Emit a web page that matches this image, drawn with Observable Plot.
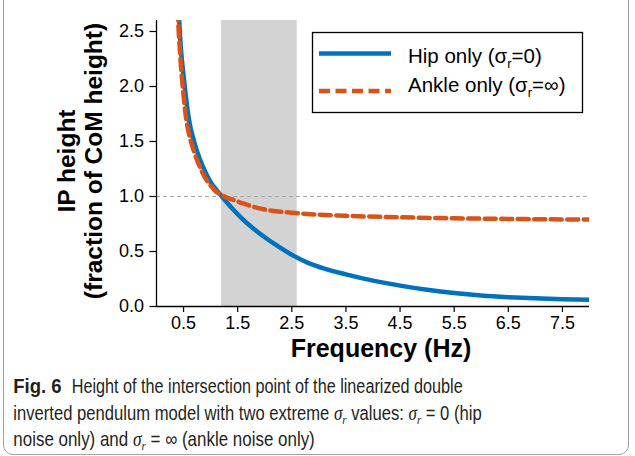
<!DOCTYPE html>
<html><head><meta charset="utf-8">
<script src="https://cdn.jsdelivr.net/npm/d3@7"></script>
<script src="https://cdn.jsdelivr.net/npm/@observablehq/plot@0.6"></script>
<style>
html,body{margin:0;padding:0;background:#fff;}
#wrap{position:relative;width:635px;height:456px;overflow:hidden;font-family:"Liberation Sans",Arial,sans-serif;}
#frame{position:absolute;left:3px;top:-12px;width:626px;height:467px;border:1px solid #a0a0a0;border-radius:10px;box-sizing:border-box;}
#chart{position:absolute;left:0;top:0;}
#overlay{position:absolute;left:0;top:0;pointer-events:none;}
</style>
</head><body>
<div id="wrap"><div id="frame"></div><div id="chart"></div></div>
<script>
// ---- data ----
const hipFreq   = [0.41,0.45,0.5,0.55,0.6,0.7,0.8,0.9,1.0,1.1,1.2,1.4,1.6,1.8,2.0,2.2,2.5,2.8,3.1,3.5,4.0,4.5,5.0,5.5,6.0,6.5,7.0,7.5,8.0];
const hipHeight = [2.68,2.35,2.10,1.88,1.70,1.49,1.34,1.225,1.13,1.065,1.005,0.89,0.79,0.705,0.63,0.562,0.47,0.397,0.345,0.292,0.235,0.19,0.152,0.122,0.10,0.085,0.074,0.066,0.061];
const ankleFreq   = [0.39,0.42,0.45,0.5,0.55,0.6,0.7,0.8,0.9,1.0,1.1,1.2,1.3,1.4,1.6,1.8,2.0,2.3,2.6,3.0,3.5,4.5,5.5,6.5,8.0];
const ankleHeight = [2.70,2.42,2.20,1.92,1.70,1.57,1.40,1.27,1.17,1.10,1.045,1.012,0.99,0.973,0.937,0.905,0.882,0.862,0.848,0.835,0.824,0.811,0.802,0.796,0.79];
const bandStart = 1.2, bandEnd = 2.6;   // shaded frequency band
const refLevel = 1.0;                   // dashed reference line
const xTicks = [0.5,1.5,2.5,3.5,4.5,5.5,6.5,7.5];
const yTicks = [0,0.5,1.0,1.5,2.0,2.5];
const seriesNames = ["Hip only", "Ankle only"];

const blue = "#0072bd", orange = "#d95319";
const hip = hipFreq.map((f,i)=>({f, h: hipHeight[i]}));
const ankle = ankleFreq.map((f,i)=>({f, h: ankleHeight[i]}));

const chart = Plot.plot({
  width: 635, height: 370,
  marginLeft: 156, marginRight: 46, marginTop: 20, marginBottom: 64,
  x: {domain: [0, 8]},
  y: {domain: [0, 2.6]},
  style: {fontFamily: "'Liberation Sans', Arial, sans-serif", fontSize: "18px", color: "#000", background: "transparent"},
  marks: [
    Plot.rect([{x1: bandStart, x2: bandEnd}], {x1: "x1", x2: "x2", fill: "#d3d3d3"}),
    Plot.ruleY([refLevel], {stroke: "#a8a8a8", strokeWidth: 1.2, strokeDasharray: "4,3"}),
    Plot.line(hip, {x: "f", y: "h", stroke: blue, strokeWidth: 4.5, curve: "monotone-x", clip: true}),
    Plot.line(ankle, {x: "f", y: "h", stroke: orange, strokeWidth: 4.5, strokeDasharray: "11,5.5", curve: "monotone-x", clip: true}),
    Plot.axisX({ticks: xTicks, tickFormat: d => d.toFixed(1), tickSize: 6, tickPadding: 4, label: null, strokeWidth: 1.2}),
    Plot.axisY({ticks: yTicks, tickFormat: d => d.toFixed(1), tickSize: 6.5, tickPadding: 6, label: null, strokeWidth: 1.2}),
    Plot.ruleX([0], {stroke: "#000", strokeWidth: 1.3}),
    Plot.ruleY([0], {stroke: "#000", strokeWidth: 1.3})
  ]
});
document.getElementById("chart").appendChild(chart);

// ---- overlay: axis titles, legend, caption ----
const ov = d3.select("#wrap").append("svg").attr("id","overlay").attr("width",635).attr("height",456)
  .style("font-family","'Liberation Sans', Arial, sans-serif");

// y title
ov.append("text").attr("transform","translate(75,161) rotate(-90)").attr("text-anchor","middle")
  .attr("font-weight","bold").attr("font-size",24.5).attr("fill","#000").text("IP height");
ov.append("text").attr("transform","translate(101.5,161) rotate(-90)").attr("text-anchor","middle")
  .attr("font-weight","bold").attr("font-size",24.5).attr("fill","#000").text("(fraction of CoM height)");
// x title
ov.append("text").attr("x",381).attr("y",356.5).attr("text-anchor","middle")
  .attr("font-weight","bold").attr("font-size",25).attr("fill","#000").text("Frequency (Hz)");

// legend
const lg = ov.append("g").attr("transform","translate(312,32)");
lg.append("rect").attr("x",0.5).attr("y",0.5).attr("width",270).attr("height",80)
  .attr("fill","#fff").attr("stroke","#000").attr("stroke-width",1.3);
lg.append("line").attr("x1",7).attr("x2",79).attr("y1",21.5).attr("y2",21.5)
  .attr("stroke",blue).attr("stroke-width",4.5);
lg.append("line").attr("x1",7).attr("x2",79).attr("y1",59).attr("y2",59)
  .attr("stroke",orange).attr("stroke-width",4.5).attr("stroke-dasharray","11,5.5");
const legendSym = ["0", "\u221E"];
[31.3, 59.7].forEach((y,i)=>{
  const t = lg.append("text").attr("x",96).attr("y",y).attr("font-size",20.5).attr("fill","#000");
  t.append("tspan").text(seriesNames[i] + " (\u03C3");
  t.append("tspan").attr("font-size",13).attr("dy",5).text("r");
  t.append("tspan").attr("dy",-5).text("=" + legendSym[i] + ")");
});

// caption
const capFont = "'Liberation Sans Narrow', 'Liberation Sans', Arial, sans-serif";
const capColor = "#231f20";
function capText(){ return ov.append("text").attr("font-family",capFont).attr("font-size",20.5).attr("fill",capColor); }
function sigma(t){
  t.append("tspan").attr("font-family","'Liberation Serif', serif").attr("font-style","italic").attr("font-size",21).text("\u03C3");
  t.append("tspan").attr("font-family","'Liberation Serif', serif").attr("font-style","italic").attr("font-size",13.5).attr("dy",4).text("r");
  return t.append("tspan").attr("dy",-4);
}
function fit(sel, x, y, target){
  const w = sel.node().getComputedTextLength();
  sel.attr("transform", `translate(${x},${y}) scale(${target / w},1)`);
}
const f1 = capText(); f1.attr("font-weight","bold").text("Fig. 6"); fit(f1, 13.3, 393.3, 48.4);
const l1 = capText(); l1.text("Height of the intersection point of the linearized double"); fit(l1, 71.7, 393.3, 391.3);
const l2 = capText();
l2.append("tspan").text("inverted pendulum model with two extreme ");
sigma(l2).text(" values: ");
sigma(l2).text(" = 0 (hip");
fit(l2, 13.3, 419.8, 468.7);
const l3 = capText();
l3.append("tspan").text("noise only) and ");
sigma(l3).text(" = \u221E (ankle noise only)");
fit(l3, 13.3, 446, 301.7);
</script>
</body></html>
